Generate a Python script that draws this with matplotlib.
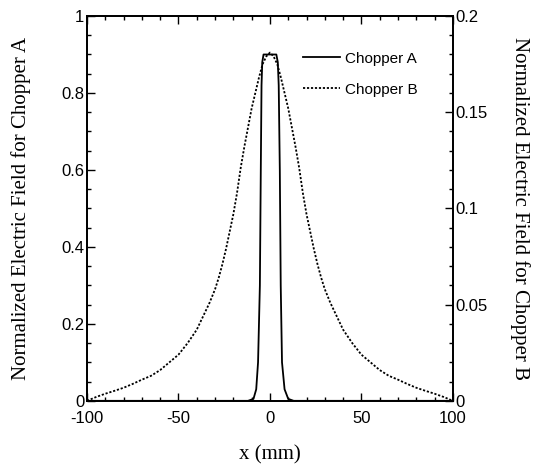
import numpy as np
import matplotlib.pyplot as plt
from matplotlib.ticker import MultipleLocator

# Chopper A (left axis)
xa = [-100, -12, -9, -7.5, -6.5, -5.5, -5, -4.6, -4.2, -3.5, 0, 3.5, 4.3, 4.8, 5.4, 5.9, 6.6, 8, 10, 13, 100]
ya = [0, 0, 0.005, 0.03, 0.1, 0.3, 0.6, 0.82, 0.88, 0.9, 0.9, 0.9, 0.88, 0.82, 0.6, 0.3, 0.1, 0.03, 0.005, 0, 0]

# Chopper B (right axis) (right half, mirrored for left)
xb_half = [0, 2, 4, 6, 8, 10, 12, 14, 16, 18, 20, 22, 24, 26, 28, 30, 33, 36, 40, 45,
           50, 55, 60, 65, 70, 75, 80, 85, 90, 95, 100]
yb_half = [0.181, 0.179, 0.175, 0.168, 0.160, 0.152, 0.142, 0.132, 0.121, 0.108, 0.097,
           0.088, 0.079, 0.071, 0.064, 0.058, 0.051, 0.045, 0.037, 0.030,
           0.024, 0.020, 0.016, 0.013, 0.011, 0.0088, 0.0068, 0.0052, 0.0037, 0.002, 0.0]
xb = [-v for v in xb_half[:0:-1]] + xb_half
yb = yb_half[:0:-1] + yb_half

sans = 'Liberation Sans'
serif = 'Liberation Serif'

fig = plt.figure(figsize=(5.34, 4.71), dpi=100)
ax = fig.add_axes([0.163, 0.149, 0.685, 0.817])
ax2 = ax.twinx()

la, = ax.plot(xa, ya, color='black', lw=1.3, label='Chopper A')
lb, = ax2.plot(xb, yb, color='black', lw=1.3, ls=(0, (1.2, 1.0)), label='Chopper B')

ax.set_xlim(-100, 100)
ax.set_ylim(0, 1)
ax2.set_ylim(0, 0.2)

ax.xaxis.set_minor_locator(MultipleLocator(10))
ax.yaxis.set_minor_locator(MultipleLocator(0.05))
ax2.yaxis.set_minor_locator(MultipleLocator(0.01))

ax.set_yticks([0, 0.2, 0.4, 0.6, 0.8, 1])
ax.set_yticklabels(['0', '0.2', '0.4', '0.6', '0.8', '1'])
ax.set_xticks([-100, -50, 0, 50, 100])
ax.set_xticklabels(['-100', '-50', '0', '50', '100'])
ax2.set_yticks([0, 0.05, 0.1, 0.15, 0.2])
ax2.set_yticklabels(['0', '0.05', '0.1', '0.15', '0.2'])

ax.tick_params(which='both', direction='in', top=True, right=False, labelsize=12, width=1)
ax.tick_params(which='major', length=6, pad=2)
ax.tick_params(axis='x', which='major', pad=7)
ax.tick_params(which='minor', length=3)
ax2.tick_params(which='both', direction='in', labelsize=12, width=1)
ax2.tick_params(which='major', length=6, pad=2)
ax2.tick_params(which='minor', length=3)
for lab in ax.get_xticklabels() + ax.get_yticklabels() + ax2.get_yticklabels():
    lab.set_fontfamily(sans)

for a in (ax, ax2):
    for s in a.spines.values():
        s.set_linewidth(1.3)

ax.set_xlabel('x (mm)', fontfamily=serif, fontsize=15, labelpad=14)
ax.set_ylabel('Normalized Electric Field for Chopper A', fontfamily=serif, fontsize=15, labelpad=22)
ax2.set_ylabel('Normalized Electric Field for Chopper B', fontfamily=serif, fontsize=15,
               rotation=270, labelpad=30)

ax.legend(handles=[la, lb], loc='upper left', bbox_to_anchor=(0.59, 0.907), frameon=False,
          borderpad=0, borderaxespad=0,
          prop={'family': sans, 'size': 11}, handlelength=2.4, handletextpad=0.35, labelspacing=1.1)

fig.savefig('out.png', dpi=100)
